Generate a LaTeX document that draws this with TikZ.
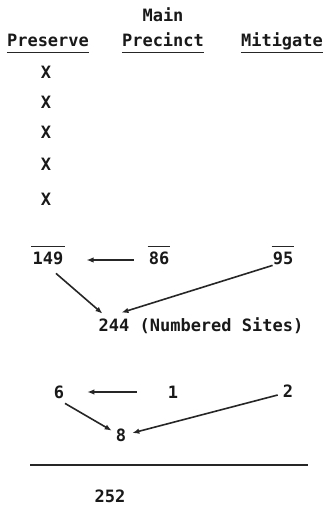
\documentclass[tikz,border=0pt]{standalone}
\usepackage{fontspec}
\setmonofont{DejaVu Sans Mono}
\usetikzlibrary{arrows.meta,calc}
\begin{document}
\begin{tikzpicture}[x=1pt,y=-1pt,
  txt/.style={inner sep=0pt, text height=12.4pt, text depth=0pt,
    font=\ttfamily\bfseries\fontsize{17}{19}\selectfont, text=black!90},
  arr/.style={line width=1.6pt, draw=black!85, -{Latex[length=7pt,width=5.5pt]}},
  rule/.style={line width=1.6pt, draw=black!85}]
\useasboundingbox (0,0) rectangle (328,506);
\fill[white] (0,0) rectangle (328,506);
% headings
\node[txt] (main) at (163,15) {Main};
\node[txt] (pres) at (48,40) {Preserve};
\node[txt] (prec) at (163,40) {Precinct};
\node[txt] (miti) at (282,40) {Mitigate};
\foreach \n in {pres,prec,miti}
  \draw[rule] ([yshift=-6pt]\n.south west) -- ([yshift=-6pt]\n.south east);
% X column
\node[txt] (x1) at (46,72) {X};
\node[txt] (x2) at (46,102) {X};
\node[txt] (x3) at (46,132) {X};
\node[txt] (x4) at (46,164) {X};
\node[txt] (x5) at (46,199) {X};
% totals
\node[txt] (n149) at (48,258) {149};
\node[txt] (n86) at (159,258) {86};
\node[txt] (n95) at (283,258) {95};
\foreach \n in {n149,n86,n95}
  \draw[rule] ([yshift=5pt,xshift=-1pt]\n.north west) -- ([yshift=5pt,xshift=1pt]\n.north east);
\node[txt] (n244) at (201,325) {244 (Numbered Sites)};
\draw[arr] ($(n86.west)+(-15,2)$) -- ($(n149.east)+(23,2)$);
\draw[arr] ($(n149.south)+(8,9)$) -- ($(n244.north west)+(4,-5)$);
\draw[arr] ($(n95.south west)+(0,1)$) -- ($(n244.north west)+(23,-6)$);
% second group
\node[txt] (n6) at (59,392) {6};
\node[txt] (n1) at (173,392) {1};
\node[txt] (n2) at (288,391) {2};
\node[txt] (n8) at (121,435) {8};
\draw[arr] ($(n1.west)+(-31,0)$) -- ($(n6.east)+(23,0)$);
\draw[arr] ($(n6.south)+(6,5)$) -- ($(n8.north west)+(-4,2)$);
\draw[arr] ($(n2.west)+(-5,4)$) -- ($(n8.east)+(6,-2)$);
% sum line
\coordinate (ls) at (30,465);
\coordinate (le) at (308,465);
\draw[rule] (ls) -- (le);
\node[txt] (n252) at (110,496) {252};
\end{tikzpicture}
\end{document}
